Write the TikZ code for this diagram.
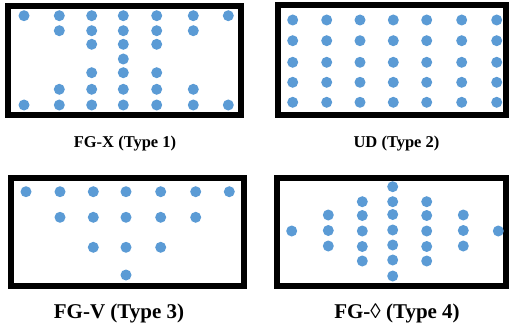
\documentclass[tikz,border=0pt]{standalone}
\usepackage{fontspec}
\setmainfont{Liberation Serif}
\definecolor{dotblue}{RGB}{91,155,213}
\begin{document}
\begin{tikzpicture}[x=1pt,y=-1pt,
  frame/.style={draw=black,line width=6pt},
  dot/.style={fill=dotblue},
  lbltop/.style={font=\fontsize{16.5}{18}\selectfont\bfseries,anchor=base,inner sep=0pt},
  lblbot/.style={font=\fontsize{21}{24}\selectfont\bfseries,anchor=base,inner sep=0pt}]
\useasboundingbox (0,0) rectangle (509,329);
% Panel 1: FG-X
\draw[frame] (7.5,6) rectangle (241,114.7);
\foreach \x in {24,59.3,91.7,123.3,156.7,193.3,228.3} {
  \fill[dot] (\x,15.7) circle[radius=5.5pt];
  \fill[dot] (\x,105) circle[radius=5.5pt];
}
\foreach \x in {59.3,91.7,123.3,156.7,193.3} {
  \fill[dot] (\x,30.7) circle[radius=5.5pt];
  \fill[dot] (\x,89.3) circle[radius=5.5pt];
}
\foreach \x in {91.7,123.3,156.7} {
  \fill[dot] (\x,44.3) circle[radius=5.5pt];
  \fill[dot] (\x,72.7) circle[radius=5.5pt];
}
\fill[dot] (123.3,59) circle[radius=5.5pt];
\node[lbltop] (l1) at (125,147) {FG-X (Type 1)};
% Panel 2: UD
\draw[frame] (277.5,5) rectangle (506,114.5);
\foreach \x in {292.7,326.7,360,393.3,426.7,461.7,496.7}
  \foreach \y in {20,40.7,62.3,82.3,102.3}
    \fill[dot] (\x,\y) circle[radius=5.5pt];
\node[lbltop] (l2) at (396.5,147) {UD (Type 2)};
% Panel 3: FG-V
\draw[frame] (11,178) rectangle (243.5,286);
\foreach \x in {26,60,93.3,126,160.7,195.7,229.3}
  \fill[dot] (\x,191.7) circle[radius=5.5pt];
\foreach \x in {60,93.3,126,160.7,195.7}
  \fill[dot] (\x,217.3) circle[radius=5.5pt];
\foreach \x in {93.3,126,160.7}
  \fill[dot] (\x,247.3) circle[radius=5.5pt];
\fill[dot] (126,275) circle[radius=5.5pt];
\node[lblbot] (l3) at (119,318) {FG-V (Type 3)};
% Panel 4: FG-diamond
\draw[frame] (277,177.5) rectangle (506,286.3);
\fill[dot] (291.7,231) circle[radius=5.5pt];
\fill[dot] (498.3,231) circle[radius=5.5pt];
\foreach \x in {328.3,463.3}
  \foreach \y in {215,230.5,246}
    \fill[dot] (\x,\y) circle[radius=5.5pt];
\foreach \x in {362.3,426.7}
  \foreach \y in {201.7,215.5,231,246.5,261}
    \fill[dot] (\x,\y) circle[radius=5.5pt];
\foreach \y in {186.7,201.7,214.5,230,245,260,276}
  \fill[dot] (392.7,\y) circle[radius=5.5pt];
\node[lblbot] (l4) at (397,318) {FG-◊ (Type 4)};
\end{tikzpicture}
\end{document}
